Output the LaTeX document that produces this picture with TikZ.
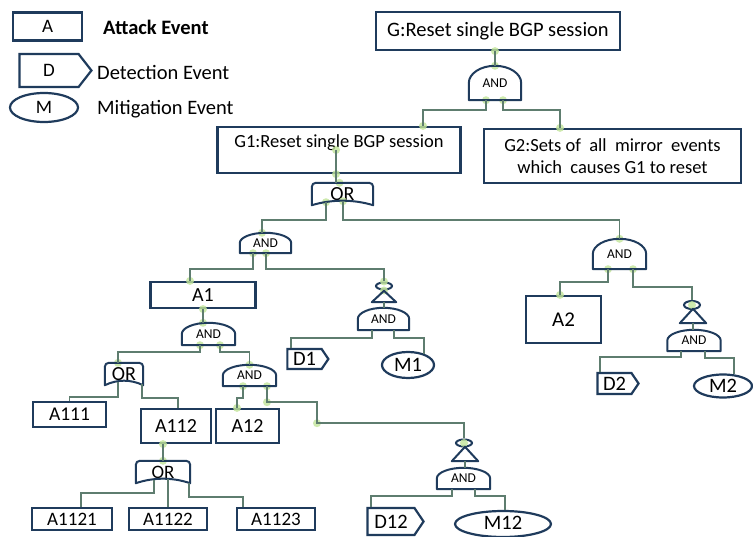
\documentclass[tikz,border=0pt]{standalone}
\usepackage{fontspec}
\setmainfont{Carlito}
\usetikzlibrary{shapes.geometric,shapes.symbols,calc}
\definecolor{navy}{HTML}{1F3B5C}
\definecolor{connc}{HTML}{5E7D6F}
\definecolor{glowc}{HTML}{C2E59A}
\newcommand\myfs[1]{\fontsize{#1}{#1}\selectfont}
\newcommand\andshape[1]{\draw[gb] (#1.south west) -- (#1.west) .. controls ($(#1.west)!0.55!(#1.north west)$) and ($(#1.north)!0.55!(#1.north west)$) .. (#1.north) .. controls ($(#1.north)!0.55!(#1.north east)$) and ($(#1.east)!0.55!(#1.north east)$) .. (#1.east) -- (#1.south east) -- cycle;}
\newcommand\orshape[1]{\draw[gb] (#1.south east) .. controls ($(#1.south east)!0.33!(#1.south west)+(0,-6)$) and ($(#1.south east)!0.67!(#1.south west)+(0,-6)$) .. (#1.south west) [rounded corners=4pt] -- (#1.north west) -- (#1.north east) [sharp corners] -- cycle;}
\newcommand\inhshape[1]{\draw[gb] (#1.south west) -- (#1.north) -- (#1.south east) -- cycle;}
\begin{document}
\begin{tikzpicture}[x=1pt,y=-1pt,
  box/.style={draw=navy,line width=2.2pt,fill=white,inner sep=0pt},
  gb/.style={draw=navy,line width=2pt,line join=round},
  gt/.style={inner sep=0pt,font=\myfs{13.5}},
  org/.style={inner sep=0pt,font=\myfs{20}},
  conn/.style={draw=connc,line width=1.8pt},
  glow/.style={fill=glowc,opacity=0.8},
  det/.style={draw=navy,line width=2.2pt,fill=white,inner sep=0pt,signal,signal to=east,signal pointer angle=112,font=\myfs{20.5}},
  mit/.style={draw=navy,line width=2.2pt,fill=white,inner sep=0pt,ellipse,font=\myfs{20.5}},
  ih/.style={draw=navy,line width=2pt,ellipse,inner sep=0pt,minimum width=16pt,minimum height=7pt},
  lt/.style={anchor=base west,inner sep=0pt,font=\myfs{20.5}}]
\fill[white] (0,0) rectangle (753,537);
\useasboundingbox (0,0) rectangle (753,537);

% legend
\node[box,minimum width=69pt,minimum height=28pt,font=\myfs{19}] (lA) at (47.5,26.5) {A};
\node[lt,font=\myfs{20.5}\bfseries] (lAt) at (103,35) {Attack Event};
\node[det,signal pointer angle=104,minimum width=72pt,minimum height=33pt,font=\myfs{19}] (lD) at (49,70.5) {D};
\node[lt] (lDt) at (97,80) {Detection Event};
\node[mit,minimum width=68pt,minimum height=29pt,font=\myfs{19}] (lM) at (44,107.5) {M};
\node[lt] (lMt) at (97,115) {Mitigation Event};

% top
\node[box,minimum width=244pt,minimum height=38pt,font=\myfs{20.5}] (G) at (498,31) {G:Reset single BGP session};
\node[gt,minimum width=52pt,minimum height=34pt] (and0) at (495,83) {AND};
\node[box,minimum width=243pt,text height=21pt,text depth=25pt,font=\myfs{18.5}] (G1) at (339,150) {G1:Reset single BGP session};
\node[box,minimum width=257pt,minimum height=54pt,align=center,font=\fontsize{18.5}{22}\selectfont] (G2) at (612.5,156) {G2:Sets of~ all~ mirror~ events\\which~ causes G1 to reset};

\node[org,minimum width=61pt,minimum height=22pt] (OR0) at (342.5,194) {OR};
\node[gt,minimum width=51pt,minimum height=20pt] (AND1) at (265.5,243) {AND};
\node[gt,minimum width=53pt,minimum height=30pt] (AND2) at (619.5,254) {AND};

% left branch
\node[box,minimum width=105pt,minimum height=26pt,font=\myfs{20}] (A1) at (203,295) {A1};
\node[gt,minimum width=24pt,minimum height=11pt] (IH1) at (384,296.5) {};
\node[ih] (IH1e) at (384,286) {};
\node[gt,minimum width=51pt,minimum height=22pt] (AND3) at (383.5,319) {AND};
\node[det,minimum width=41pt,minimum height=20pt] (D1) at (304.5,359) {D1};
\node[mit,minimum width=52pt,minimum height=26pt] (M1) at (408,365) {M1};

\node[gt,minimum width=53pt,minimum height=22pt] (ANDA1) at (208.5,334) {AND};
\node[org,minimum width=38pt,minimum height=22pt] (ORA1) at (124,374) {OR};
\node[gt,minimum width=53pt,minimum height=21pt] (ANDA12) at (249.5,375.5) {AND};
\node[box,minimum width=73pt,minimum height=25pt,font=\myfs{19.5}] (A111) at (69.5,414.5) {A111};
\node[box,minimum width=70pt,minimum height=34pt,font=\myfs{20}] (A112) at (176,426) {A112};
\node[box,minimum width=63pt,minimum height=34pt,font=\myfs{20}] (A12) at (247.5,426) {A12};
\node[org,minimum width=54pt,minimum height=22pt,font=\myfs{19}] (ORB) at (163,472) {OR};
\node[box,minimum width=80pt,minimum height=22pt,font=\myfs{19}] (A1121) at (72,519) {A1121};
\node[box,minimum width=78pt,minimum height=22pt,font=\myfs{19}] (A1122) at (168,519) {A1122};
\node[box,minimum width=78pt,minimum height=22pt,font=\myfs{19}] (A1123) at (276,519) {A1123};

\node[gt,minimum width=26pt,minimum height=14pt] (IH12) at (465,454) {};
\node[ih] (IH12e) at (464,443) {};
\node[gt,minimum width=53pt,minimum height=21pt] (AND12) at (463.5,478.5) {AND};
\node[det,minimum width=56pt,minimum height=27pt] (D12) at (391,521.5) {D12};
\node[mit,minimum width=96pt,minimum height=26pt,text depth=2pt] (M12) at (503,524) {M12};

% right branch
\node[box,minimum width=75pt,minimum height=47pt,font=\myfs{21}] (A2) at (563.5,319.5) {A2};
\node[gt,minimum width=26pt,minimum height=14pt] (IH2) at (693,316) {};
\node[ih,minimum height=8pt] (IH2e) at (692,305) {};
\node[gt,minimum width=53pt,minimum height=21pt] (AND22) at (694,340.5) {AND};
\node[det,minimum width=41pt,minimum height=21pt] (D2) at (614.5,383.5) {D2};
\node[mit,minimum width=58pt,minimum height=23pt] (M2) at (723,386) {M2};

% connection glows
\foreach \p in {(G.south -| and0.north),(and0.north),([xshift=-9pt]and0.south),([xshift=8pt]and0.south),
  ([xshift=84pt]G1.north),([xshift=-52.5pt]G2.north),([xshift=-3pt]G1.center),([xshift=-3pt]G1.south),
  ([xshift=-3pt]OR0.north),([xshift=-16.5pt,yshift=3pt]OR0.south),([xshift=0.5pt,yshift=4pt]OR0.south),
  ([xshift=-3.5pt]AND1.north),([xshift=-12.5pt]AND1.south),([xshift=0.5pt]AND1.south),
  (IH1e.north),(IH1e.south),(AND2.north),([xshift=-11.5pt]AND2.south),([xshift=13.5pt]AND2.south),
  ([xshift=-3.5pt]A2.north),(IH2e.center),([xshift=-13pt]A1.north),(A1.south),(A1.south |- ANDA1.north),
  ([xshift=-8.5pt]ANDA1.south),([xshift=11.5pt]ANDA1.south),([xshift=-6pt]ORA1.north),(ANDA12.north),
  ([xshift=-6.5pt]ANDA12.south),([xshift=17.5pt]ANDA12.south),([xshift=-10.5pt]A12.north),
  ([xshift=17.5pt,yshift=-16pt]ANDA12.south),([xshift=67.5pt,yshift=-37pt]ANDA12.south),
  (IH12e.center),(ORB.north |- A112.south),(ORB.north)}
  \fill[glow] \p circle (4);

% gate outlines
\andshape{and0}
\andshape{AND1}
\andshape{AND2}
\andshape{AND3}
\andshape{ANDA1}
\andshape{ANDA12}
\andshape{AND12}
\andshape{AND22}
\orshape{OR0}
\orshape{ORA1}
\orshape{ORB}
\inhshape{IH1}
\inhshape{IH12}
\inhshape{IH2}

% connectors
\draw[conn] (G.south -| and0.north) -- (and0.north);
\draw[conn] ([xshift=-9pt]and0.south) -- ++(0,10) -| ([xshift=84pt]G1.north);
\draw[conn] ([xshift=8pt]and0.south) -- ++(0,10) -| ([xshift=-52.5pt]G2.north);
\draw[conn] ([xshift=-3pt]G1.center) -- ([xshift=-3pt]G1.center |- OR0.north);
\draw[conn] ([xshift=-16.5pt,yshift=3pt]OR0.south) -- ++(0,18) -| ([xshift=-3.5pt]AND1.north);
\draw[conn] ([xshift=0.5pt,yshift=4pt]OR0.south) -- ++(0,19) -| (AND2.north);
\draw[conn] ([xshift=-12.5pt]AND1.south) -- ++(0,16) -| ([xshift=-13pt]A1.north);
\draw[conn] ([xshift=0.5pt]AND1.south) -- ++(0,16) -| (IH1e.north);
\draw[conn] (IH1.south) -- (IH1.south |- AND3.north);
\draw[conn] ([xshift=-11.5pt]AND3.south) -- ++(0,8) -| ([xshift=-13.5pt]D1.north);
\draw[conn] ([xshift=10.5pt]AND3.south) -- ++(0,8) -| (M1.35);
\draw[conn] (A1.south) -- (A1.south |- ANDA1.north);
\draw[conn] ([xshift=-8.5pt]ANDA1.south) -- ++(0,7) -| ([xshift=-6pt]ORA1.north);
\draw[conn] ([xshift=11.5pt]ANDA1.south) -- ++(0,7) -| (ANDA12.north);
\draw[conn] ([xshift=-6pt,yshift=3pt]ORA1.south) -- ++(0,15) -| (A111.north);
\draw[conn] ([xshift=18pt,yshift=1pt]ORA1.south) -- ++(0,14) -| ([xshift=2pt]A112.north);
\draw[conn] ([xshift=-6.5pt]ANDA12.south) -- ++(0,12) -| ([xshift=-10.5pt]A12.north);
\draw[conn] ([xshift=17.5pt]ANDA12.south) -- ++(0,16) -- ++(50,0) -- ++(0,21) -| (IH12e.north);
\draw[conn] (IH12.south) -- (IH12.south |- AND12.north);
\draw[conn] ([xshift=-11.5pt]AND12.south) -- ++(0,7) -| ([xshift=-20pt]D12.north);
\draw[conn] ([xshift=11.5pt]AND12.south) -- ++(0,7) -| ([xshift=2pt]M12.north);
\draw[conn] (ORB.north |- A112.south) -- (ORB.north);
\draw[conn] ([xshift=-9pt,yshift=3pt]ORB.south) -- ++(0,13) -| ([xshift=9pt]A1121.north);
\draw[conn] ([xshift=5pt,yshift=4pt]ORB.south) -- (A1122.north);
\draw[conn] ([xshift=26pt]ORB.south) -- ++(0,14) -| ([xshift=-33pt]A1123.north);
\draw[conn] ([xshift=-11.5pt]AND2.south) -- ++(0,13) -| ([xshift=-3.5pt]A2.north);
\draw[conn] ([xshift=13.5pt]AND2.south) -- ++(0,18) -| (IH2e.north);
\draw[conn] (IH2.south) -- (IH2.south |- AND22.north);
\draw[conn] ([xshift=-13pt]AND22.south) -- ++(0,6) -| ([xshift=-14.5pt]D2.north);
\draw[conn] ([xshift=11pt]AND22.south) -- ++(0,7) -| (M2.47);
\end{tikzpicture}
\end{document}
